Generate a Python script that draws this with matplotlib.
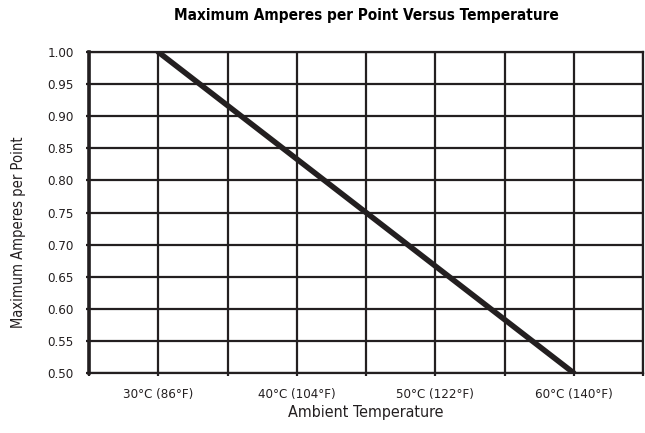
import matplotlib.pyplot as plt
import numpy as np

# data
temp_c = [30, 60]
amps = [1.00, 0.50]
tick_pos = [30, 40, 50, 60]
tick_labels = ['30°C (86°F)', '40°C (104°F)', '50°C (122°F)', '60°C (140°F)']
y_ticks = [0.50, 0.55, 0.60, 0.65, 0.70, 0.75, 0.80, 0.85, 0.90, 0.95, 1.00]

dark = '#231f20'
plt.rcParams['font.family'] = ['DejaVu Sans']
plt.rcParams['font.stretch'] = 'condensed'

fig = plt.figure(figsize=(6.45, 4.33), dpi=100)
ax = fig.add_axes([89/645, 1 - 373/433, (643 - 89)/645, (373 - 52)/433])

ax.set_xlim(25, 65)
ax.set_ylim(0.50, 1.00)

# grid every 5 degC / 0.05 A
ax.set_xticks(np.arange(25, 66, 5), minor=True)
ax.set_xticks(tick_pos)
ax.set_xticklabels(tick_labels, fontsize=9.5, color=dark)
ax.set_yticks(y_ticks)
ax.set_yticklabels(['%.2f' % v for v in y_ticks], fontsize=9.5, color=dark)
ax.grid(True, which='both', color=dark, linewidth=1.6)
ax.tick_params(which='both', length=2, width=1.6, color=dark, pad=9)
ax.tick_params(axis='y', pad=9)

for s in ax.spines.values():
    s.set_color(dark)
    s.set_linewidth(1.6)
ax.spines['left'].set_linewidth(2.6)

ax.plot(temp_c, amps, color=dark, linewidth=4, solid_capstyle='round', zorder=5)

ax.set_title('Maximum Amperes per Point Versus Temperature', fontsize=11,
             fontweight='bold', color='black', pad=23)
ax.set_xlabel('Ambient Temperature', fontsize=11.5, color=dark)
ax.xaxis.set_label_coords(0.5, -0.10)
ax.set_ylabel('Maximum Amperes per Point', fontsize=10.5, color=dark)
ax.yaxis.set_label_coords(-0.114, 0.44)

fig.savefig('out.png', dpi=100)
